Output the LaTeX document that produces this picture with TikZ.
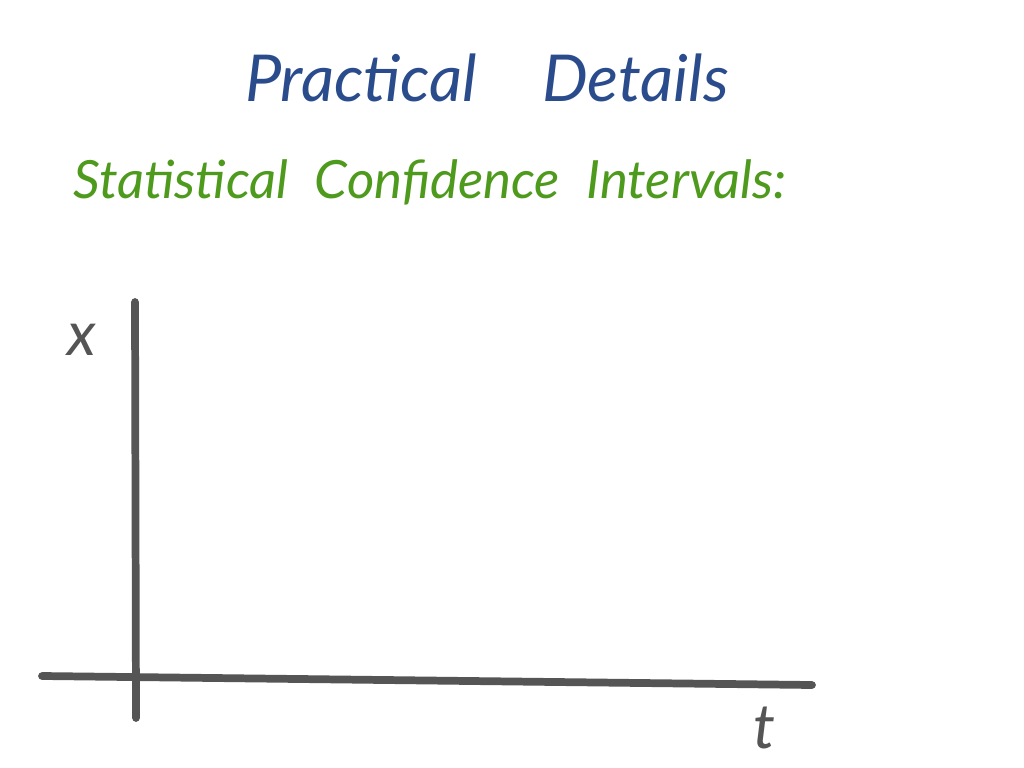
\documentclass[tikz,border=0pt]{standalone}
\usepackage{fontspec}
\setmainfont{Lato}
\usetikzlibrary{positioning}

\definecolor{titleblue}{HTML}{2B4C8C}
\definecolor{headgreen}{HTML}{4E9A1C}
\definecolor{penGray}{HTML}{555555}

\begin{document}
\begin{tikzpicture}[
    x=0.025cm, y=-0.025cm,
    title/.style={font=\fontsize{46}{50}\selectfont\itshape, text=titleblue},
    heading/.style={font=\fontsize{37.5}{42}\selectfont\itshape, text=headgreen},
    axis/.style={line width=5.5pt, penGray, line cap=round},
    axislabel/.style={font=\fontsize{44}{48}\selectfont\itshape, text=penGray}
]
% page frame
\useasboundingbox[fill=white] (0,0) rectangle (1024,768);

% Titles
\node[title] (title) at (487,78) {Practical\quad Details};
\node[heading] (subtitle) at (430,182) {Statistical\enspace Confidence\enspace Intervals:};

% Axes
\coordinate (ytop) at (135,302);
\coordinate (ybot) at (136,718);
\coordinate (xleft) at (42,676);
\coordinate (xright) at (812,685);
\draw[axis] (ybot) -- (ytop);
\draw[axis] (xleft) -- (xright);

% Axis labels
\node[axislabel] (xlab) at (82,340) {x};
\node[axislabel] (tlab) at (764,728) {t};

\end{tikzpicture}
\end{document}
